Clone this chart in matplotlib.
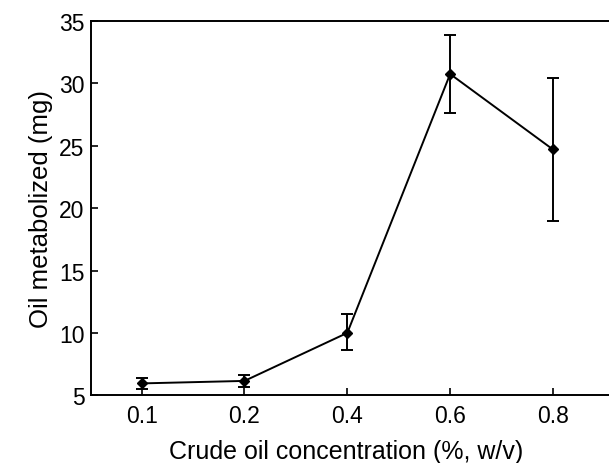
import numpy as np
import matplotlib.pyplot as plt

# data
concentrations = ['0.1', '0.2', '0.4', '0.6', '0.8']
oil_metabolized = [5.95, 6.15, 10.0, 30.75, 24.7]
err_low = [0.45, 0.45, 1.35, 3.1, 5.7]
err_high = [0.45, 0.45, 1.5, 3.1, 5.7]

plt.rcParams['font.family'] = ['Liberation Sans', 'DejaVu Sans']

fig = plt.figure(figsize=(6.09, 4.64), dpi=100)
ax = fig.add_axes([0.1494, 0.146, 0.8506, 0.8066])

x = np.arange(len(concentrations))
ax.errorbar(x, oil_metabolized, yerr=[err_low, err_high], color='k',
            lw=1.4, elinewidth=1.4, capsize=4.5, capthick=1.4,
            marker='D', markersize=5)

ax.set_xlim(-0.493, 4.545)
ax.set_ylim(5, 35)
ax.set_xticks(x)
ax.set_xticklabels(concentrations)
ax.set_yticks(range(5, 36, 5))
ax.tick_params(direction='in', length=5, width=1.2, labelsize=16.5)
ax.tick_params(axis='y', pad=4.5)
ax.tick_params(axis='x', pad=6)
ax.spines['right'].set_visible(False)
for s in ['left', 'top', 'bottom']:
    ax.spines[s].set_linewidth(1.4)

ax.set_xlabel('Crude oil concentration (%, w/v)', fontsize=18)
ax.xaxis.set_label_coords(0.493, -0.116)
ax.set_ylabel('Oil metabolized (mg)', fontsize=18.5)
ax.yaxis.set_label_coords(-0.073, 0.5)

fig.savefig('out.png', dpi=100)
